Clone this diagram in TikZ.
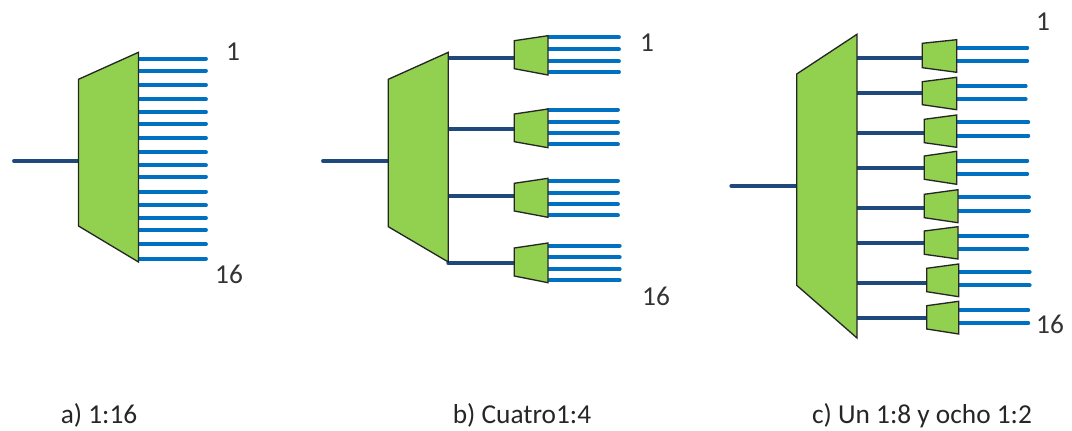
\documentclass[tikz,border=0pt]{standalone}
\usepackage{fontspec}
\usepackage{xcolor}
\setmainfont{Carlito}
\definecolor{muxgreen}{HTML}{92D050}
\definecolor{fibreblue}{HTML}{0070C0}
\definecolor{trunkblue}{HTML}{1F497D}
\tikzset{
  muxbox/.style={draw=black!85,fill=muxgreen,line width=1pt,line join=miter},
  fibre/.style={draw=fibreblue,line width=2.9pt,line cap=round},
  trunk/.style={draw=trunkblue,line width=2.9pt,line cap=round},
  portlabel/.style={inner sep=0pt,text=black!80,font=\fontsize{20.5}{22}\selectfont},
  caption/.style={inner sep=0pt,anchor=base,text=black!85,font=\fontsize{20.5}{22}\selectfont}
}
\begin{document}
\begin{tikzpicture}[x=0.75pt,y=-0.75pt]
\useasboundingbox (0,0) rectangle (1072,431);
% a) 1:16
\coordinate (ain) at (14,161);
\coordinate (alt) at (78.5,79.3);
\coordinate (alb) at (78.5,226);
\coordinate (art) at (138.5,52.3);
\coordinate (arb) at (138.5,262);
\coordinate (ainend) at (78.5,161);
\draw[trunk] (ain) -- (ainend);
\foreach \y [count=\k] in {58.7,70.7,85,99.3,112,123.7,138,152.3,165.3,176.7,191.7,205.3,218,230,244.3,258.7} {
  \coordinate (ao\k) at (138.5,\y);
  \coordinate (ae\k) at (206,\y);
  \draw[fibre] (ao\k) -- (ae\k);
}
\draw[muxbox] (alt) -- (art) -- (arb) -- (alb) -- cycle;
\node (a1) at (233,52) [portlabel] {1};
\node (a16) at (229,274) [portlabel] {16};
\node (acap) at (99,423) [caption] {a) 1:16};
% b) Cuatro 1:4
\coordinate (bin) at (323,161);
\coordinate (binend) at (388.3,161);
\draw[trunk] (bin) -- (binend);
\foreach \n/\yb/\lt/\lb/\rt/\rb/\outs/\xe in {
  1/57.7/40.7/68.7/35.7/75/{37.3,49.3,61.3,72}/619,
  2/128.7/114/141.7/109/147.7/{109.7,121.7,133.3,144.3}/618,
  3/195.7/183.3/211/178.3/217.3/{180.7,192.7,204.3,215.3}/618,
  4/263.3/248/276/243/282.7/{245.7,257.3,269,280.3}/619.7} {
  \coordinate (bs\n) at (448.3,\yb);
  \coordinate (bm\n) at (514.3,\yb);
  \draw[trunk] (bs\n) -- (bm\n);
  \foreach \y [count=\k] in \outs {
    \coordinate (bo\n\k) at (548,\y);
    \coordinate (be\n\k) at (\xe,\y);
    \draw[fibre] (bo\n\k) -- (be\n\k);
  }
  \draw[muxbox] (514.3,\lt) -- (548,\rt) -- (548,\rb) -- (514.3,\lb) -- cycle;
}
\draw[muxbox] (388.3,79.3) -- (448.3,52.3) -- (448.3,262) -- (388.3,226.7) -- cycle;
\node (b1) at (647,43) [portlabel] {1};
\node (b16) at (656,296) [portlabel] {16};
\node (bcap) at (522,423) [caption] {b) Cuatro1:4};
% c) Un 1:8 y ocho 1:2
\coordinate (cin) at (731.3,186);
\coordinate (cinend) at (796.7,186);
\draw[trunk] (cin) -- (cinend);
\foreach \n/\yb/\xl/\xr/\lt/\lb/\rt/\rb/\ya/\yc/\xe in {
  1/58.3/922.3/956.7/43.3/67.7/39.7/72.3/47.7/61/1027.3,
  2/93.3/922.3/956.7/81.7/104.7/77.3/109.7/86/99.3/1025.7,
  3/133.3/924.3/956.7/119.3/142.7/115/147.3/122.3/135.7/1028.3,
  4/167.7/924.3/956.7/156/179.3/151.3/184.3/160.7/174/1027.3,
  5/208/924.3/958/194.3/217.7/189.7/222.7/197.3/210.7/1029,
  6/242.7/924.3/958/231/254.3/226.7/259/235.7/249/1027.3,
  7/282.7/926.7/958.7/268.3/291.7/264/296.7/272/285.3/1029.7,
  8/317.7/926.7/958.7/305.7/329/301.3/334/310.3/323.3/1028.3} {
  \coordinate (cs\n) at (857,\yb);
  \coordinate (cm\n) at (\xl,\yb);
  \draw[trunk] (cs\n) -- (cm\n);
  \coordinate (co\n a) at (\xr,\ya);
  \coordinate (ce\n a) at (\xe,\ya);
  \coordinate (co\n b) at (\xr,\yc);
  \coordinate (ce\n b) at (\xe,\yc);
  \draw[fibre] (co\n a) -- (ce\n a);
  \draw[fibre] (co\n b) -- (ce\n b);
  \draw[muxbox] (\xl,\lt) -- (\xr,\rt) -- (\xr,\rb) -- (\xl,\lb) -- cycle;
}
\draw[muxbox] (796.7,74) -- (857,34.3) -- (857,338) -- (796.7,285.3) -- cycle;
\node (c1) at (1043,22) [portlabel] {1};
\node (c16) at (1050,324) [portlabel] {16};
\node (ccap) at (922,423) [caption] {c) Un 1:8 y ocho 1:2};
\end{tikzpicture}
\end{document}
